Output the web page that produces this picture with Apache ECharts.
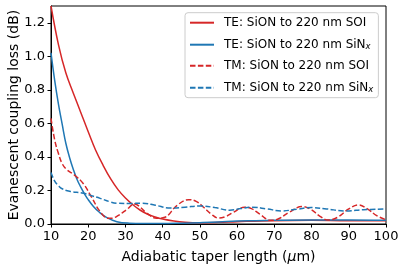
<!DOCTYPE html>
<html>
<head>
<meta charset="utf-8">
<script src="https://cdn.jsdelivr.net/npm/echarts@6/dist/echarts.min.js"></script>
<style>html,body{margin:0;padding:0;background:#fff;}#c{width:404px;height:273px;}</style>
</head>
<body>
<div id="c"></div>
<script>
// ---- data ----
const seriesNames = ['TE: SiON to 220 nm SOI', 'TE: SiON to 220 nm SiNx', 'TM: SiON to 220 nm SOI', 'TM: SiON to 220 nm SiNx'];

const teSoiX = [10, 12, 14, 16, 18, 20, 22, 24, 26, 28, 30, 32, 34, 36, 38, 40, 43, 46, 50, 55, 60, 70, 80, 90, 100];
const teSoiY = [1.30, 1.07, 0.90, 0.78, 0.665, 0.55, 0.44, 0.35, 0.27, 0.205, 0.155, 0.115, 0.082, 0.058, 0.042, 0.03, 0.018, 0.011, 0.008, 0.01, 0.014, 0.02, 0.022, 0.02, 0.02];

const teSinX = [10, 11, 12, 13, 14, 15, 16, 17, 18, 19, 20, 21.4, 23, 25, 27.7, 31, 35, 40, 45, 50, 55, 60, 65, 70, 80, 90, 100];
const teSinY = [1.02, 0.855, 0.715, 0.595, 0.48, 0.395, 0.325, 0.265, 0.22, 0.18, 0.145, 0.105, 0.07, 0.038, 0.014, 0.005, 0.003, 0.003, 0.005, 0.008, 0.012, 0.018, 0.02, 0.022, 0.024, 0.024, 0.022];

const tmSoiX = [10, 11, 12, 13, 14.2, 16.4, 18.7, 20.9, 23.2, 25.4, 26.5, 28, 30.3, 32.5, 34, 35.7, 38.4, 40.6, 43.8, 47, 49, 51, 53, 55, 57, 59, 62, 64, 66, 69, 71, 74, 77.4, 80, 82, 84.5, 87, 90, 92.6, 95, 97.5, 100];
const tmSoiY = [0.63, 0.50, 0.42, 0.36, 0.325, 0.29, 0.24, 0.16, 0.074, 0.034, 0.035, 0.05, 0.085, 0.12, 0.1, 0.065, 0.034, 0.04, 0.11, 0.145, 0.135, 0.10, 0.06, 0.035, 0.045, 0.07, 0.10, 0.09, 0.06, 0.022, 0.03, 0.07, 0.104, 0.085, 0.05, 0.024, 0.04, 0.09, 0.114, 0.09, 0.05, 0.025];

const tmSinX = [10, 11, 12, 13, 15, 18.7, 21, 23.2, 25.9, 27.7, 31, 34.5, 38, 42, 46, 50, 54, 58, 61, 64, 68, 72, 76, 80, 84, 89, 94, 100];
const tmSinY = [0.307, 0.255, 0.228, 0.21, 0.195, 0.183, 0.168, 0.153, 0.132, 0.124, 0.122, 0.124, 0.112, 0.095, 0.1, 0.108, 0.098, 0.082, 0.092, 0.10, 0.09, 0.078, 0.088, 0.098, 0.09, 0.078, 0.085, 0.09];

const xTicks = [10, 20, 30, 40, 50, 60, 70, 80, 90, 100];
const yTicks = [0, 0.2, 0.4, 0.6, 0.8, 1.0, 1.2];

const RED = '#d62728', BLUE = '#1f77b4';
const FONT = 'DejaVu Sans';

function pairs(xs, ys) { return xs.map((x, i) => [x, ys[i]]); }

function mk(name, xs, ys, color, dashed) {
  return {
    name: name, type: 'line', data: pairs(xs, ys), smooth: 0.4,
    symbol: 'none', showSymbol: false, clip: true,
    lineStyle: { color: color, width: 1.5, type: dashed ? [5.5, 2.4] : 'solid' },
    itemStyle: { color: color },
    emphasis: { disabled: true }
  };
}

const chart = echarts.init(document.getElementById('c'), null, { renderer: 'canvas' });
chart.setOption({
  animation: false,
  backgroundColor: '#fff',
  textStyle: { fontFamily: FONT },
  grid: { left: 51, right: 18, top: 6, bottom: 49, outerBoundsMode: 'none', containLabel: false,
          show: true, borderColor: '#000', borderWidth: 1, backgroundColor: 'transparent' },
  xAxis: {
    type: 'value', min: 10, max: 100, interval: 10,
    name: 'Adiabatic taper length ({it|μ}m)', nameLocation: 'middle', nameGap: 26, nameMoveOverlap: false,
    nameTextStyle: { fontSize: 14, color: '#000', fontFamily: FONT, rich: { it: { fontSize: 14, fontStyle: 'italic', color: '#000', fontFamily: FONT } } },
    axisLine: { show: true, lineStyle: { color: '#000', width: 1 } },
    axisTick: { show: true, inside: false, length: 3.5, customValues: xTicks, lineStyle: { color: '#000', width: 1 } },
    axisLabel: { fontSize: 13, color: '#000', margin: 6, fontFamily: FONT, customValues: xTicks },
    splitLine: { show: false }
  },
  yAxis: {
    type: 'value', min: 0, max: 1.3, interval: 0.2,
    name: 'Evanescent coupling loss (dB)', nameLocation: 'middle', nameGap: 30, nameMoveOverlap: false,
    nameTextStyle: { fontSize: 14, color: '#000', fontFamily: FONT },
    axisLine: { show: true, lineStyle: { color: '#000', width: 1 } },
    axisTick: { show: true, inside: false, length: 3.5, customValues: yTicks, lineStyle: { color: '#000', width: 1 } },
    axisLabel: { fontSize: 13, color: '#000', margin: 6, fontFamily: FONT, customValues: yTicks, formatter: v => v.toFixed(1) },
    splitLine: { show: false }
  },
  legend: {
    orient: 'vertical', left: 185, top: 12.7,
    data: seriesNames,
    backgroundColor: '#fff', borderColor: '#cccccc', borderWidth: 1, borderRadius: 3,
    padding: [3, 5, 3, 4],
    itemWidth: 24, itemHeight: 14, itemGap: 7,
    itemStyle: { opacity: 0 },
    formatter: name => name.replace('SiNx', 'SiN{sub|x}'),
    textStyle: {
      fontSize: 12, color: '#000', fontFamily: FONT, lineHeight: 14, padding: [0, 0, 0, 5],
      rich: { sub: { fontSize: 8.5, fontStyle: 'italic', color: '#000', fontFamily: FONT, verticalAlign: 'bottom', lineHeight: 14, padding: [6, 0, 0, 0] } }
    },
    selectedMode: false
  },
  series: [
    mk(seriesNames[0], teSoiX, teSoiY, RED, false),
    mk(seriesNames[1], teSinX, teSinY, BLUE, false),
    mk(seriesNames[2], tmSoiX, tmSoiY, RED, true),
    mk(seriesNames[3], tmSinX, tmSinY, BLUE, true)
  ]
});
</script>
</body>
</html>
